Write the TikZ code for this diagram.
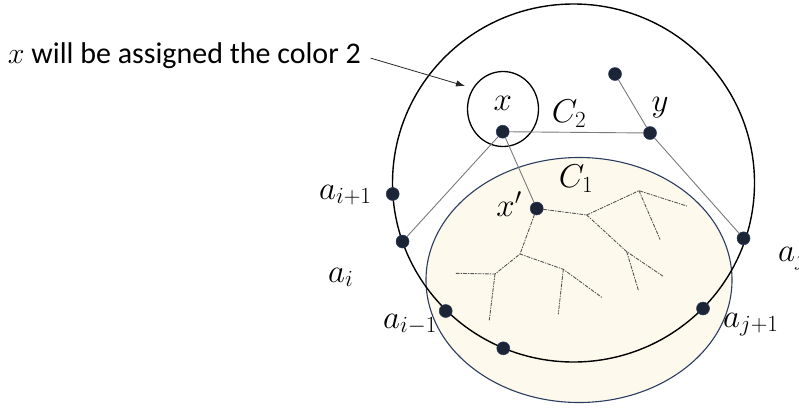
\RequirePackage{fix-cm}
\documentclass[tikz,border=0pt]{standalone}
\usepackage{amsmath}
\usepackage{fontspec}
\setmainfont{Carlito}
\usepackage{tikz}
\usetikzlibrary{arrows.meta,positioning,calc}
\definecolor{ink}{HTML}{1C2536}
\definecolor{navyline}{HTML}{2B3C5E}
\definecolor{cream}{HTML}{FDF9EC}
\definecolor{linkgray}{HTML}{7A7A7A}
\tikzset{
    every picture/.style={line cap=round,line join=round},
    vertex/.style={circle,fill=ink,draw=navyline,line width=0.5pt,
      minimum size=13pt,inner sep=0pt},
    linkline/.style={draw=linkgray,line width=0.9pt},
    treeline/.style={draw=linkgray!70!black,line width=0.9pt,
      dash pattern=on 3.2pt off 1.6pt on 0.9pt off 1.6pt},
    mathlabel/.style={font=\fontsize{33}{35}\selectfont,inner sep=0pt},
    notetext/.style={font=\fontsize{30}{34}\selectfont,inner sep=0pt,outer sep=0pt},
    pointer/.style={-{Latex[length=9pt,width=6.5pt]},draw=black!85,line width=0.8pt}
}
\begin{document}
\begin{tikzpicture}[x=1pt,y=-1pt]
  \useasboundingbox (0,0) rectangle (799,407);
  % regions
  \draw[navyline,fill=cream,line width=1.1pt] (579,280) ellipse [x radius=153pt,y radius=122.5pt];
  \draw[black,line width=1.4pt] (573.5,183) ellipse [x radius=181pt,y radius=179pt];
  \draw[black,line width=1.3pt] (503,109) ellipse [x radius=35.5pt,y radius=37.5pt];
  % vertices
  \node[vertex] (x) at (502.7,131.7) {};
  \node[vertex] (y) at (650,133) {};
  \node[vertex] (top) at (615,74) {};
  \node[vertex] (xp) at (536.7,208.5) {};
  \node[vertex] (aiup) at (392.7,194) {};
  \node[vertex] (ai) at (402.5,241.5) {};
  \node[vertex] (aidn) at (445.7,311) {};
  \node[vertex] (bot) at (503.3,348.3) {};
  \node[vertex] (ajup) at (703,308.5) {};
  \node[vertex] (aj) at (743.5,238.3) {};
  \draw[linkline] (x)--(ai);
  \draw[linkline] (x)--(xp);
  \draw[linkline] (x)--(y);
  \draw[linkline] (top)--(y)--(aj);
  % tree inside C1
  \coordinate (b1) at (586.7,215);
  \coordinate (b2) at (639,190.7);
  \coordinate (b3) at (686.7,206);
  \coordinate (b4) at (660,239.3);
  \coordinate (b5) at (626.7,251.7);
  \coordinate (b6) at (662.7,276);
  \coordinate (b7) at (638.3,290);
  \coordinate (b8) at (520,254);
  \coordinate (b9) at (495,274);
  \coordinate (b10) at (456,273.3);
  \coordinate (b11) at (489.3,320);
  \coordinate (b12) at (563.3,269.3);
  \coordinate (b13) at (601.7,297.3);
  \coordinate (b14) at (558.3,314);
  \draw[treeline] (xp)--(b1)--(b2)--(b3);
  \draw[treeline] (b2)--(b4);
  \draw[treeline] (b1)--(b5)--(b6);
  \draw[treeline] (b5)--(b7);
  \draw[treeline] (xp)--(b8)--(b9)--(b10);
  \draw[treeline] (b9)--(b11);
  \draw[treeline] (b8)--(b12)--(b13);
  \draw[treeline] (b12)--(b14);
  % labels
  \node[mathlabel] (xlab) at (502.7,103.3) {$x$};
  \node[mathlabel] (ctwo) at (569,114) {$C_2$};
  \node[mathlabel] (ylab) at (660,108) {$y$};
  \node[mathlabel] (cone) at (576,179) {$C_1$};
  \node[mathlabel] (xplab) at (509,204) {$x'$};
  \node[mathlabel,anchor=base west] (aiuplab) at (319,199) {$a_{i+1}$};
  \node[mathlabel,anchor=base west] (ailab) at (328,282) {$a_i$};
  \node[mathlabel,anchor=base west] (aidnlab) at (383,328) {$a_{i-1}$};
  \node[mathlabel,anchor=base west] (ajuplab) at (723,327) {$a_{j+1}$};
  \node[mathlabel,anchor=base west] (ajlab) at (778,261) {$a_j$};
  % note
  \node[notetext,anchor=base west] (note) at (8,63) {$x$ will be assigned the color 2};
  \coordinate (tip) at (465,86);
  \draw[pointer] ([xshift=10pt,yshift=-3pt]note.east) -- (tip);
\end{tikzpicture}
\end{document}
